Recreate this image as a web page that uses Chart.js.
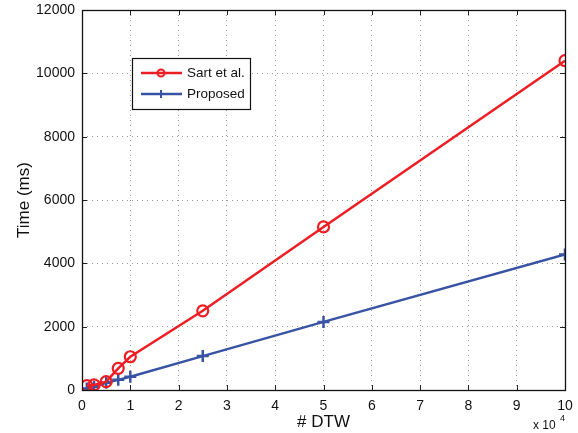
<!DOCTYPE html>
<html><head><meta charset="utf-8">
<script src="https://cdn.jsdelivr.net/npm/chart.js@4/dist/chart.umd.min.js"></script>
<style>html,body{margin:0;padding:0;background:#fff}#wrap{width:578px;height:433px;position:relative}</style>
</head><body><div id="wrap"><canvas id="c" width="578" height="433"></canvas></div>
<script>
const xValues = [1000, 2500, 5000, 7500, 10000, 25000, 50000, 100000];
const sartValues = [140, 160, 265, 685, 1050, 2500, 5150, 10400];
const proposedValues = [50, 100, 230, 320, 420, 1070, 2150, 4280];
const xTicks = [0, 1, 2, 3, 4, 5, 6, 7, 8, 9, 10];
const yTicks = [0, 2000, 4000, 6000, 8000, 10000, 12000];
const seriesNames = ['Sart et al.', 'Proposed'];
const xTitle = '# DTW';
const yTitle = 'Time (ms)';
const RED = '#ee1d23', BLUE = '#3953a4';
const FONT = "'Liberation Sans', Arial, sans-serif";

const toPts = (ys) => xValues.map((x, i) => ({x, y: ys[i]}));

const framePlugin = {
  id: 'frame',
  afterDraw(chart) {
    const {ctx, chartArea: a, scales} = chart;
    ctx.save();
    ctx.strokeStyle = '#222'; ctx.lineWidth = 1;
    ctx.beginPath();
    xTicks.forEach(t => {
      const px = Math.round(scales.x.getPixelForValue(t * 1e4)) + 0.5;
      ctx.moveTo(px, a.bottom); ctx.lineTo(px, a.bottom - 5);
      ctx.moveTo(px, a.top); ctx.lineTo(px, a.top + 5);
    });
    yTicks.forEach(t => {
      const py = Math.round(scales.y.getPixelForValue(t)) + 0.5;
      ctx.moveTo(a.left, py); ctx.lineTo(a.left + 5, py);
      ctx.moveTo(a.right, py); ctx.lineTo(a.right - 5, py);
    });
    ctx.stroke();
    ctx.strokeStyle = '#111'; ctx.lineWidth = 1.3;
    ctx.strokeRect(Math.round(a.left) + 0.5, Math.round(a.top) + 0.5, Math.round(a.right - a.left), Math.round(a.bottom - a.top));
    const lx = 132, ly = 58, lw = 118, lh = 51;
    ctx.fillStyle = '#fff'; ctx.fillRect(lx, ly, lw, lh);
    ctx.strokeStyle = '#111'; ctx.lineWidth = 1.2;
    ctx.strokeRect(lx + 0.5, ly + 0.5, lw, lh);
    const rows = [{c: RED, y: ly + 15, m: 'circle'}, {c: BLUE, y: ly + 36, m: 'cross'}];
    rows.forEach((r, i) => {
      ctx.strokeStyle = r.c; ctx.lineWidth = 2.5;
      ctx.beginPath(); ctx.moveTo(lx + 9, r.y); ctx.lineTo(lx + 50, r.y); ctx.stroke();
      ctx.lineWidth = 2;
      if (r.m === 'circle') { ctx.beginPath(); ctx.arc(lx + 29, r.y, 3.5, 0, Math.PI * 2); ctx.stroke(); }
      else { ctx.beginPath(); ctx.moveTo(lx + 29, r.y - 4); ctx.lineTo(lx + 29, r.y + 4); ctx.stroke(); }
      ctx.fillStyle = '#111'; ctx.font = '13.5px ' + FONT; ctx.textBaseline = 'middle'; ctx.textAlign = 'left';
      ctx.fillText(seriesNames[i], lx + 55, r.y);
    });
    ctx.fillStyle = '#111'; ctx.textBaseline = 'alphabetic';
    ctx.font = '12px ' + FONT; ctx.fillText('x 10', 533, 429);
    ctx.font = '9px ' + FONT; ctx.fillText('4', 560, 421);
    ctx.restore();
  }
};

new Chart(document.getElementById('c'), {
  type: 'line',
  data: {
    datasets: [
      {label: seriesNames[0], data: toPts(sartValues), borderColor: RED, backgroundColor: 'rgba(0,0,0,0)',
       borderWidth: 2.5, pointStyle: 'circle', pointRadius: 5.5, pointBorderWidth: 2.2, pointBorderColor: RED, pointBackgroundColor: 'rgba(0,0,0,0)'},
      {label: seriesNames[1], data: toPts(proposedValues), borderColor: BLUE, backgroundColor: BLUE,
       borderWidth: 2.5, pointStyle: 'cross', pointRadius: 6, pointBorderWidth: 2.5, pointBorderColor: BLUE}
    ]
  },
  options: {
    responsive: false, animation: false, devicePixelRatio: 1,
    layout: {padding: {left: 0, right: 13, top: 10, bottom: 0}},
    plugins: {legend: {display: false}, tooltip: {enabled: false}},
    elements: {line: {tension: 0}},
    scales: {
      x: {
        type: 'linear', min: 0, max: 100000,
        afterBuildTicks(s) { s.ticks = xTicks.map(v => ({value: v * 1e4})); },
        afterFit(s) { s.height = 43; s.paddingLeft = 0; s.paddingRight = 0; },
        ticks: {callback: v => String(v / 1e4), color: '#111', font: {size: 14, family: FONT}, padding: 8, maxRotation: 0},
        grid: {color: '#999', lineWidth: 1, drawTicks: false, tickLength: 0},
        border: {display: false, dash: [1, 4]},
        title: {display: true, text: xTitle, color: '#111', font: {size: 17, family: FONT}, padding: {top: 0, bottom: 0}}
      },
      y: {
        type: 'linear', min: 0, max: 12000,
        afterBuildTicks(s) { s.ticks = yTicks.map(v => ({value: v})); },
        afterFit(s) { s.width = 82; s.paddingTop = 0; s.paddingBottom = 0; },
        ticks: {callback: v => String(v), color: '#111', font: {size: 14, family: FONT}, padding: 7},
        grid: {color: '#999', lineWidth: 1, drawTicks: false, tickLength: 0},
        border: {display: false, dash: [1, 4]},
        title: {display: true, text: yTitle, color: '#111', font: {size: 17, family: FONT}, padding: {top: 14, bottom: 4}}
      }
    }
  },
  plugins: [framePlugin]
});
</script></body></html>
